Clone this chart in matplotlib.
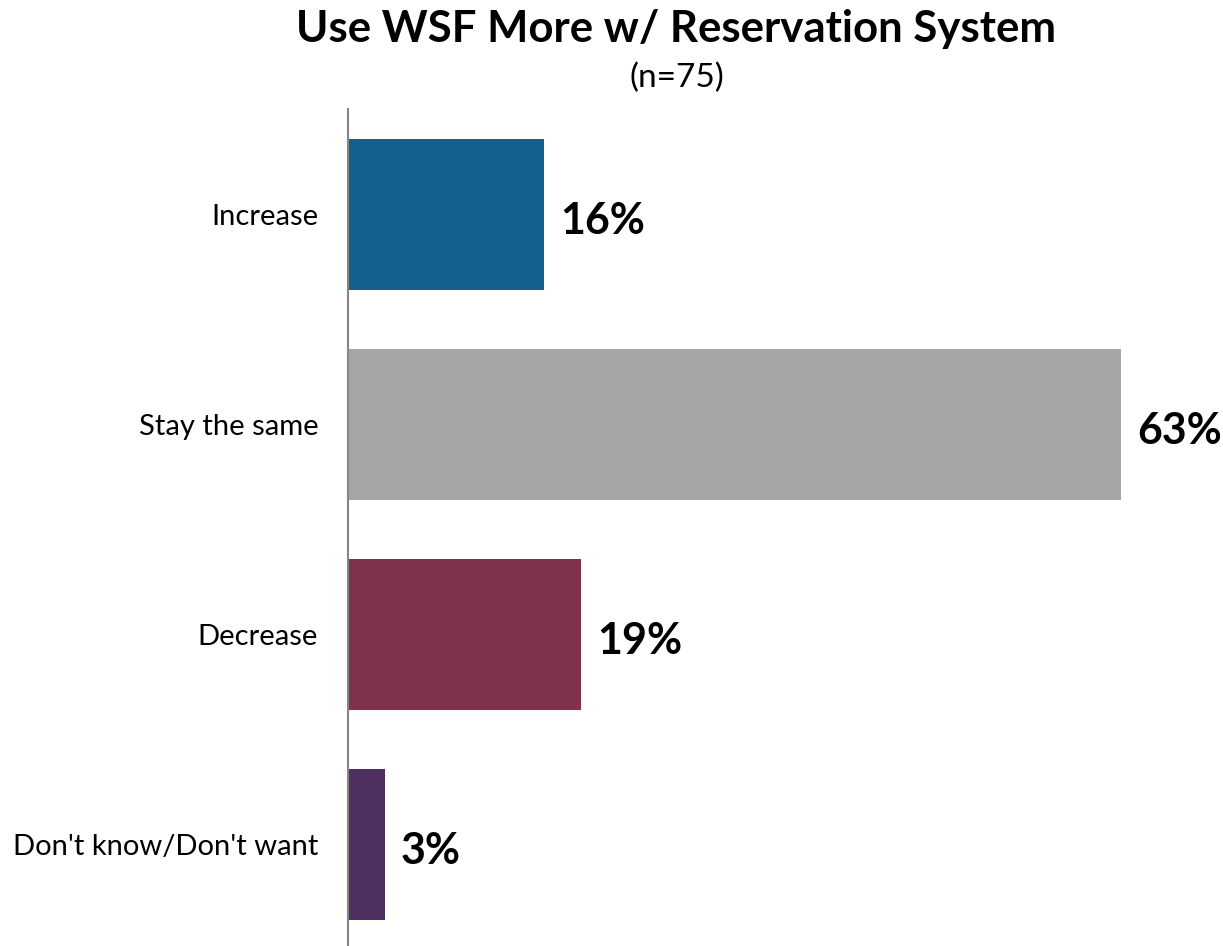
import matplotlib
matplotlib.use("Agg")
import matplotlib.pyplot as plt

categorias = ["Increase", "Stay the same", "Decrease", "Don't know/Don't want"]
valores = [16, 63, 19, 3]
colores = ["#136090", "#A6A6A6", "#7F314D", "#4D2F60"]

plt.rcParams['font.family'] = ['Lato', 'DejaVu Sans']

W, H = 1223, 946
fig = plt.figure(figsize=(W / 100, H / 100), dpi=100)
# ejes colocados en pixeles
x0, y_top, y_bot = 348, 109.5, 949.5
ancho_px = 70 * 12.27
ax = fig.add_axes([x0 / W, (H - y_bot) / H, ancho_px / W, (y_bot - y_top) / H])

pos = list(range(len(categorias)))
ax.barh(pos, valores, height=0.72, color=colores)
ax.set_ylim(3.5, -0.5)
ax.set_xlim(0, 70)

for p, v in zip(pos, valores):
    ax.text(v + 1.3, p + 0.03, f"{v}%", va="center", ha="left",
            fontsize=31, fontweight="bold", color="black")

ax.set_yticks(pos)
ax.set_yticklabels(categorias, fontsize=21)
ax.tick_params(axis="y", length=0, pad=21.5)
ax.set_xticks([])
for s in ["top", "right", "bottom"]:
    ax.spines[s].set_visible(False)
ax.spines["left"].set_color("#868686")
ax.spines["left"].set_linewidth(1.5)

fig.text(676 / W, 1 - 29 / H, "Use WSF More w/ Reservation System",
         ha="center", va="center", fontsize=31.5, fontweight="bold")
fig.text(677 / W, 1 - 78 / H, "(n=75)", ha="center", va="center", fontsize=24)

fig.savefig("out.png", dpi=100)
